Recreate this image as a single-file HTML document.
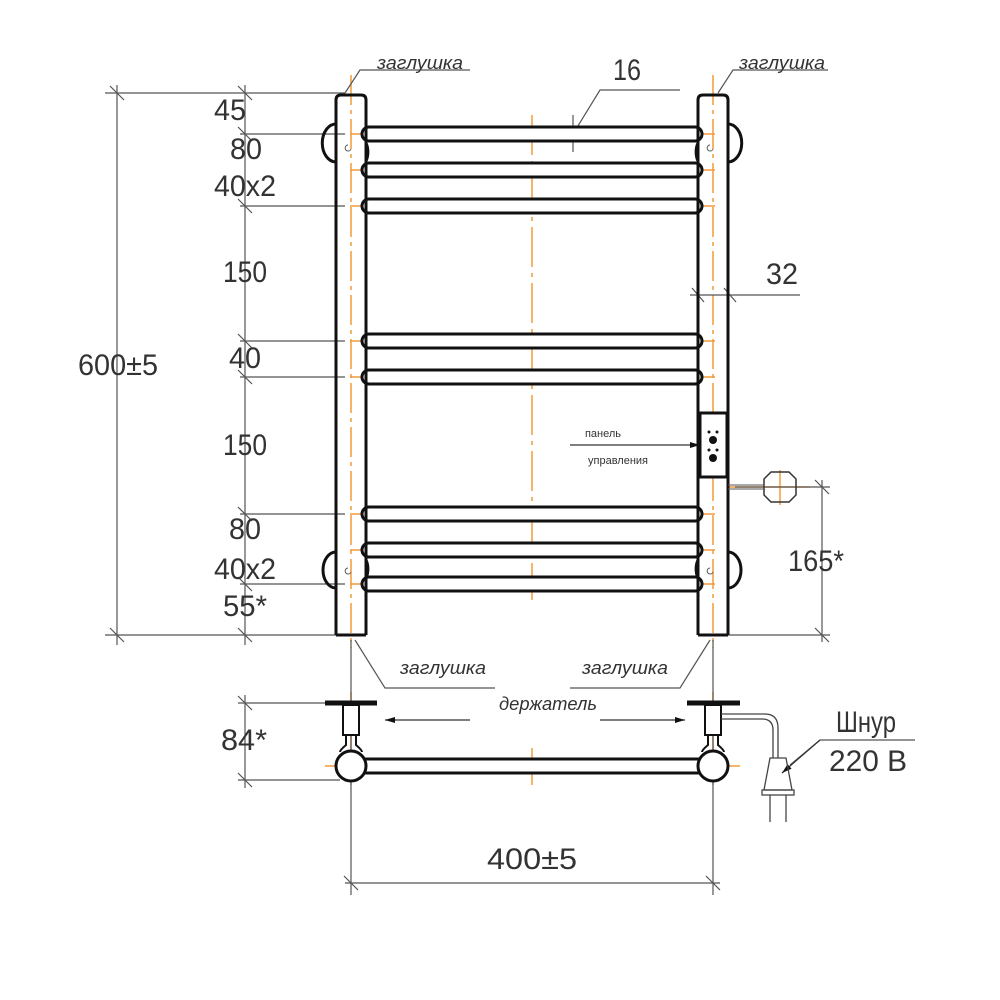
<!DOCTYPE html>
<html><head><meta charset="utf-8"><style>
html,body{margin:0;padding:0;background:#fff;}
svg{display:block}
text{font-family:"Liberation Sans","DejaVu Sans",sans-serif;fill:#333;}
</style></head><body>
<svg width="1000" height="1000" viewBox="0 0 1000 1000" xmlns="http://www.w3.org/2000/svg">
<defs>
<marker id="ar" viewBox="0 0 10 6" refX="10" refY="3" markerWidth="14" markerHeight="6" orient="auto" markerUnits="userSpaceOnUse"><path d="M0,0 L10,3 L0,6z" fill="#111"/></marker>
</defs>
<g stroke="#f39a3c" stroke-width="1.5" fill="none">
 <line x1="351" y1="75" x2="351" y2="648" stroke-dasharray="30,5,4,5"/>
 <line x1="713" y1="75" x2="713" y2="648" stroke-dasharray="30,5,4,5"/>
 <line x1="532" y1="115" x2="532" y2="600" stroke-dasharray="40,6,4,6"/>
 <line x1="350" y1="134" x2="715" y2="134" stroke-dasharray="30,5,4,5"/>
 <line x1="350" y1="170" x2="715" y2="170" stroke-dasharray="30,5,4,5"/>
 <line x1="350" y1="206" x2="715" y2="206" stroke-dasharray="30,5,4,5"/>
 <line x1="350" y1="341" x2="715" y2="341" stroke-dasharray="30,5,4,5"/>
 <line x1="350" y1="377" x2="715" y2="377" stroke-dasharray="30,5,4,5"/>
 <line x1="350" y1="514" x2="715" y2="514" stroke-dasharray="30,5,4,5"/>
 <line x1="350" y1="550" x2="715" y2="550" stroke-dasharray="30,5,4,5"/>
 <line x1="350" y1="584" x2="715" y2="584" stroke-dasharray="30,5,4,5"/>
 <line x1="325" y1="766" x2="740" y2="766" stroke-dasharray="30,5,4,5"/>
 <line x1="351" y1="692" x2="351" y2="785"/>
 <line x1="713" y1="692" x2="713" y2="785"/>
 <line x1="532" y1="748" x2="532" y2="785"/>
 <line x1="780" y1="470" x2="780" y2="505"/>
 <line x1="728" y1="487" x2="810" y2="487"/>
</g>
<g stroke="#555" stroke-width="1.2" fill="none">
 <line x1="105" y1="93" x2="345" y2="93"/>
 <line x1="105" y1="635" x2="345" y2="635"/>
 <line x1="117" y1="85" x2="117" y2="645"/>
 <line x1="245" y1="85" x2="245" y2="645"/>
 <line x1="240" y1="134" x2="345" y2="134"/>
 <line x1="240" y1="206" x2="345" y2="206"/>
 <line x1="240" y1="341" x2="345" y2="341"/>
 <line x1="240" y1="377" x2="345" y2="377"/>
 <line x1="240" y1="514" x2="345" y2="514"/>
 <line x1="240" y1="584" x2="345" y2="584"/>
 <line x1="720" y1="635" x2="830" y2="635"/>
 <line x1="735" y1="487" x2="830" y2="487"/>
 <line x1="822" y1="480" x2="822" y2="642"/>
 <line x1="690" y1="295" x2="800" y2="295"/>
 <line x1="351" y1="640" x2="351" y2="895"/>
 <line x1="713" y1="640" x2="713" y2="895"/>
 <line x1="345" y1="883" x2="720" y2="883"/>
 <line x1="238" y1="703" x2="330" y2="703"/>
 <line x1="238" y1="780" x2="340" y2="780"/>
 <line x1="245" y1="695" x2="245" y2="788"/>
 <polyline points="345,93 360,70 470,70"/>
 <polyline points="718,93 733,70 828,70"/>
 <polyline points="573,134 600,90 680,90"/>
 <line x1="573" y1="115" x2="573" y2="152"/>
 <polyline points="355,640 385,688 495,688"/>
 <polyline points="710,640 680,688 570,688"/>
 <polyline points="790,765 820,740 915,740"/>
 <line x1="110" y1="86" x2="124" y2="100"/><line x1="110" y1="628" x2="124" y2="642"/>
 <line x1="238" y1="86" x2="252" y2="100"/><line x1="238" y1="127" x2="252" y2="141"/>
 <line x1="238" y1="199" x2="252" y2="213"/><line x1="238" y1="334" x2="252" y2="348"/>
 <line x1="238" y1="370" x2="252" y2="384"/><line x1="238" y1="507" x2="252" y2="521"/>
 <line x1="238" y1="577" x2="252" y2="591"/><line x1="238" y1="628" x2="252" y2="642"/>
 <line x1="815" y1="480" x2="829" y2="494"/><line x1="815" y1="628" x2="829" y2="642"/>
 <line x1="344" y1="876" x2="358" y2="890"/><line x1="706" y1="876" x2="720" y2="890"/>
 <line x1="238" y1="696" x2="252" y2="710"/><line x1="238" y1="773" x2="252" y2="787"/>
 <line x1="692" y1="288" x2="704" y2="302"/><line x1="724" y1="288" x2="736" y2="302"/>
 <line x1="566" y1="127" x2="580" y2="141"/><line x1="566" y1="141" x2="580" y2="127"/>
</g>
<g stroke="#333" stroke-width="1.2" fill="none">
 <line x1="570" y1="445" x2="700" y2="445" marker-end="url(#ar)"/>
 <line x1="470" y1="720" x2="385" y2="720" marker-end="url(#ar)"/>
 <line x1="600" y1="720" x2="685" y2="720" marker-end="url(#ar)"/>
 <line x1="820" y1="740" x2="782" y2="773" marker-end="url(#ar)"/>
</g>
<g stroke="#111" stroke-width="3" fill="#fff">
 <rect x="362" y="127" width="340" height="14" rx="7"/>
 <rect x="362" y="163" width="340" height="14" rx="7"/>
 <rect x="362" y="199" width="340" height="14" rx="7"/>
 <rect x="362" y="334" width="340" height="14" rx="7"/>
 <rect x="362" y="370" width="340" height="14" rx="7"/>
 <rect x="362" y="507" width="340" height="14" rx="7"/>
 <rect x="362" y="543" width="340" height="14" rx="7"/>
 <rect x="362" y="577" width="340" height="14" rx="7"/>
 <path d="M336,124 A13,18 0 0 0 336,162" fill="none"/>
 <path d="M728,124 A13,18 0 0 1 728,162" fill="none"/>
 <path d="M336,552 A13,18 0 0 0 336,588" fill="none"/>
 <path d="M728,552 A13,18 0 0 1 728,588" fill="none"/>
 <path d="M366,143 A8,14 0 0 1 366,161" fill="none"/>
 <path d="M698,143 A8,14 0 0 0 698,161" fill="none"/>
 <path d="M366,560 A8,14 0 0 1 366,578" fill="none"/>
 <path d="M698,560 A8,14 0 0 0 698,578" fill="none"/>
 <path d="M336,635 L336,100 Q336,95 341,95 L361,95 Q366,95 366,100 L366,635" fill="none"/>
 <path d="M698,635 L698,100 Q698,95 703,95 L723,95 Q728,95 728,100 L728,635" fill="none"/>
 <line x1="336" y1="635" x2="366" y2="635"/>
 <line x1="698" y1="635" x2="728" y2="635"/>
 <rect x="700" y="413" width="27" height="64"/>
</g>
<g fill="#111">
 <circle cx="713" cy="440" r="4"/><circle cx="713" cy="458" r="4"/>
 <circle cx="709" cy="432" r="1.5"/><circle cx="717" cy="432" r="1.5"/>
 <circle cx="709" cy="450" r="1.5"/><circle cx="717" cy="450" r="1.5"/>
</g>
<g stroke="#555" stroke-width="1" fill="none">
 <path d="M348,145 a3,3 0 1 0 3,4"/><path d="M710,145 a3,3 0 1 0 3,4"/>
 <path d="M348,568 a3,3 0 1 0 3,4"/><path d="M710,568 a3,3 0 1 0 3,4"/>
 <path d="M771,472 L789,472 L796,479 L796,495 L789,502 L771,502 L764,495 L764,479 Z" stroke="#333" stroke-width="1.5"/>
 <line x1="728" y1="485" x2="764" y2="485"/><line x1="728" y1="489" x2="764" y2="489"/>
</g>
<g stroke="#111" stroke-width="3" fill="#fff">
 <rect x="362" y="759" width="340" height="14"/>
 <circle cx="351" cy="766" r="15"/>
 <circle cx="713" cy="766" r="15"/>
 <path d="M325,703 L377,703" stroke-width="5"/>
 <path d="M687,703 L740,703" stroke-width="5"/>
 <rect x="343" y="705" width="16" height="30" stroke-width="2"/>
 <rect x="705" y="705" width="16" height="30" stroke-width="2"/>
 <path d="M346,735 L346,745 Q340,750 340,752 M356,735 L356,745 Q362,750 362,752" fill="none" stroke-width="2"/>
 <path d="M708,735 L708,745 Q702,750 702,752 M718,735 L718,745 Q724,750 724,752" fill="none" stroke-width="2"/>
</g>
<g stroke="#444" stroke-width="1.3" fill="none">
 <path d="M721,714 L765,714 Q778,714 778,728 L778,758"/>
 <path d="M721,719 L762,719 Q773,719 773,730 L773,758"/>
 <path d="M770,758 L786,758 L792,790 L764,790 Z"/>
 <rect x="762" y="790" width="32" height="5"/>
 <line x1="770" y1="795" x2="770" y2="822"/><line x1="786" y1="795" x2="786" y2="822"/>
</g>
<g font-size="30">
 <text x="230" y="120" text-anchor="middle" textLength="32" lengthAdjust="spacingAndGlyphs">45</text>
 <text x="246" y="159" text-anchor="middle" textLength="32" lengthAdjust="spacingAndGlyphs">80</text>
 <text x="245" y="196" text-anchor="middle" textLength="62" lengthAdjust="spacingAndGlyphs">40x2</text>
 <text x="245" y="282" text-anchor="middle" textLength="44" lengthAdjust="spacingAndGlyphs">150</text>
 <text x="245" y="368" text-anchor="middle" textLength="32" lengthAdjust="spacingAndGlyphs">40</text>
 <text x="245" y="455" text-anchor="middle" textLength="44" lengthAdjust="spacingAndGlyphs">150</text>
 <text x="245" y="539" text-anchor="middle" textLength="32" lengthAdjust="spacingAndGlyphs">80</text>
 <text x="245" y="579" text-anchor="middle" textLength="62" lengthAdjust="spacingAndGlyphs">40x2</text>
 <text x="245" y="616" text-anchor="middle" textLength="44" lengthAdjust="spacingAndGlyphs">55*</text>
 <text x="118" y="375" text-anchor="middle" textLength="80" lengthAdjust="spacingAndGlyphs">600±5</text>
 <text x="627" y="80" text-anchor="middle" textLength="28" lengthAdjust="spacingAndGlyphs">16</text>
 <text x="782" y="284" text-anchor="middle" textLength="32" lengthAdjust="spacingAndGlyphs">32</text>
 <text x="816" y="571" text-anchor="middle" textLength="56" lengthAdjust="spacingAndGlyphs">165*</text>
 <text x="244" y="750" text-anchor="middle" textLength="46" lengthAdjust="spacingAndGlyphs">84*</text>
 <text x="532" y="869" text-anchor="middle" textLength="90" lengthAdjust="spacingAndGlyphs">400±5</text>
 <text x="866" y="732" text-anchor="middle" textLength="60" lengthAdjust="spacingAndGlyphs">Шнур</text>
 <text x="868" y="771" text-anchor="middle" textLength="78" lengthAdjust="spacingAndGlyphs">220 В</text>
</g>
<g font-size="18" font-style="italic">
 <text x="420" y="69" text-anchor="middle" textLength="86" lengthAdjust="spacingAndGlyphs">заглушка</text>
 <text x="782" y="69" text-anchor="middle" textLength="86" lengthAdjust="spacingAndGlyphs">заглушка</text>
 <text x="443" y="674" text-anchor="middle" textLength="86" lengthAdjust="spacingAndGlyphs">заглушка</text>
 <text x="625" y="674" text-anchor="middle" textLength="86" lengthAdjust="spacingAndGlyphs">заглушка</text>
 <text x="548" y="710" text-anchor="middle" textLength="98" lengthAdjust="spacingAndGlyphs">держатель</text>
</g>
<g font-size="11">
 <text x="603" y="437" text-anchor="middle">панель</text>
 <text x="618" y="464" text-anchor="middle">управления</text>
</g>
</svg>
</body></html>
